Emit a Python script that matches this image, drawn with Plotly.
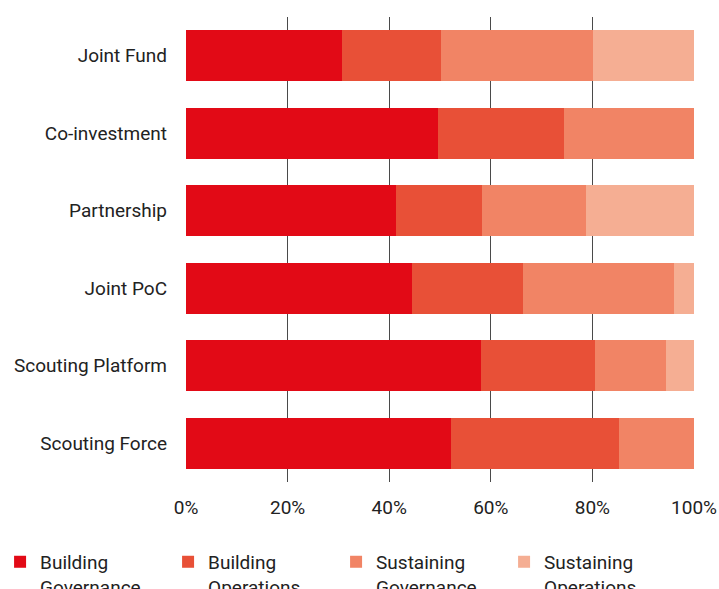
"""100% stacked horizontal bars: governance / operations split by collaboration type."""
import plotly.graph_objects as go

FONT = "Roboto"

categories = [
    "Joint Fund",
    "Co-investment",
    "Partnership",
    "Joint PoC",
    "Scouting Platform",
    "Scouting Force",
]
building_governance = [30.7, 49.7, 41.3, 44.4, 58.0, 52.2]
building_operations = [19.5, 24.7, 16.9, 21.9, 22.5, 33.0]
sustaining_governance = [30.0, 25.6, 20.5, 29.7, 13.9, 14.8]
sustaining_operations = [19.8, 0.0, 21.3, 4.0, 5.6, 0.0]

x_ticks = [0, 20, 40, 60, 80, 100]
x_tick_labels = ["0%", "20%", "40%", "60%", "80%", "100%"]

series = [
    ("Building<br>Governance", building_governance, "#E20A16"),
    ("Building<br>Operations", building_operations, "#E85037"),
    ("Sustaining<br>Governance", sustaining_governance, "#F18465"),
    ("Sustaining<br>Operations", sustaining_operations, "#F5AE93"),
]

fig = go.Figure()
for name, values, color in series:
    fig.add_trace(
        go.Bar(
            y=categories,
            x=values,
            name=name,
            orientation="h",
            marker=dict(color=color, line=dict(width=0)),
        )
    )

fig.update_layout(
    barmode="stack",
    bargap=0.34,
    width=719,
    height=589,
    margin=dict(l=186, r=25, t=17, b=107, autoexpand=False),
    plot_bgcolor="white",
    paper_bgcolor="white",
    font=dict(family=FONT, size=19, color="#222222"),
    xaxis=dict(
        range=[0, 100],
        tickvals=x_ticks,
        ticktext=x_tick_labels,
        showgrid=True,
        gridcolor="#4a4a4a",
        gridwidth=1,
        zeroline=False,
        showline=False,
        ticks="",
        automargin=False,
        ticklabelstandoff=12,
        tickfont=dict(size=19, color="#222222"),
    ),
    yaxis=dict(
        autorange="reversed",
        showgrid=False,
        zeroline=False,
        ticks="",
        automargin=False,
        ticklabelstandoff=18,
        tickfont=dict(size=19, color="#222222"),
    ),
    legend=dict(
        orientation="h",
        x=-0.366,
        y=-0.131,
        xanchor="left",
        yanchor="top",
        valign="top",
        traceorder="normal",
        entrywidth=123,
        entrywidthmode="pixels",
        font=dict(size=19, color="#222222"),
    ),
    showlegend=True,
)

# page has a default 8px body margin; drop it so the figure sits at 0,0
fig.write_html(
    "out.html",
    config={"displayModeBar": False},
    post_script="document.body.style.margin='0';",
)
